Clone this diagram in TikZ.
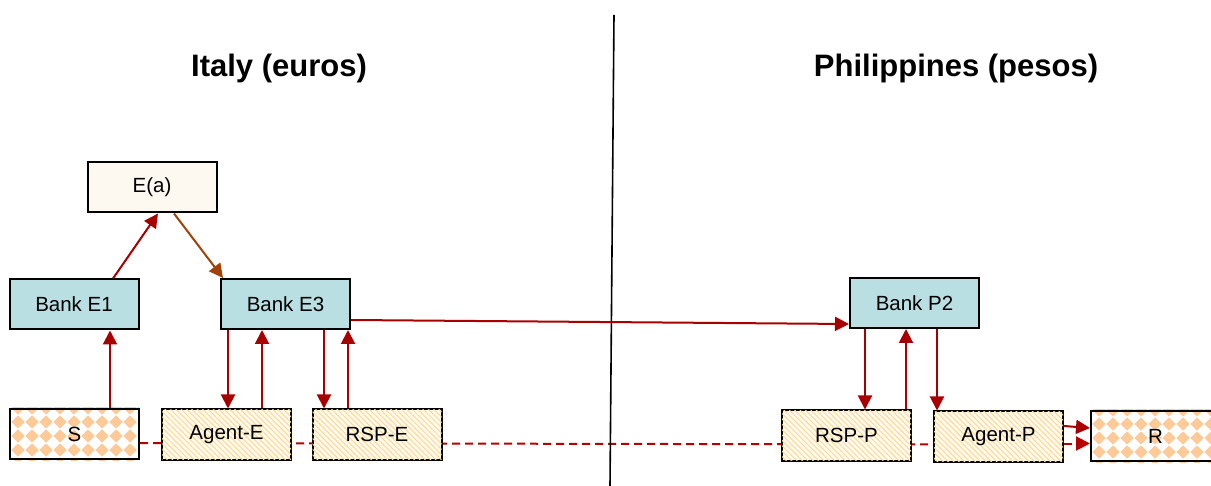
\documentclass[tikz,border=0pt]{standalone}
\usepackage{fontspec}
\setmainfont{Liberation Sans}
\usetikzlibrary{arrows.meta,patterns.meta,backgrounds}
\definecolor{arrred}{HTML}{A80000}
\definecolor{dashred}{HTML}{B80000}
\definecolor{arrbrown}{HTML}{A0420A}
\definecolor{bankfill}{HTML}{B9DFE3}
\definecolor{creamfill}{HTML}{FDF9F1}
\definecolor{hatchcol}{HTML}{FFD98F}
\definecolor{hatchbg}{HTML}{FFFBF2}
\definecolor{peach}{HTML}{FFCA98}
\tikzset{
  box/.style={draw=black, line width=2pt, minimum width=129pt, minimum height=50pt, inner sep=0pt,
    font=\fontsize{20.5}{24}\selectfont},
  bankbox/.style={box, fill=bankfill},
  ebox/.style={box, fill=creamfill},
  hatchbox/.style={box, fill=hatchbg, postaction={pattern={Lines[angle=-45,distance=3.8pt,line width=1pt]}, pattern color=hatchcol}},
  checkbox/.style={box},
  arr/.style={draw=arrred, line width=2pt, -{Triangle[width=14pt,length=14pt]}},
  brarr/.style={draw=arrbrown, line width=2pt, -{Triangle[width=14pt,length=14pt]}},
  dashline/.style={draw=dashred, line width=2pt, dash pattern=on 8pt off 5pt},
  title/.style={font=\bfseries\fontsize{31}{36}\selectfont, anchor=base},
  diamondfill/.style={fill=peach},
}
\newcommand{\checkerfill}[4]{% x0 y0 x1 y1 (pixel coords, y down)
  \begin{scope}
    \clip (#1,#2) rectangle (#3,#4);
    \fill[white] (#1,#2) rectangle (#3,#4);
    \foreach \j in {0,...,4}{
      \foreach \i in {0,...,10}{
        \fill[diamondfill, shift={({#1-6+14*\i},{#2+14*\j})}] (-6.6,0) -- (0,-6.6) -- (6.6,0) -- (0,6.6) -- cycle;
      }
    }
  \end{scope}
}
\begin{document}
\begin{tikzpicture}[x=1pt,y=-1pt]
\useasboundingbox (0,0) rectangle (1211,486);

% titles
\node[title] (tI) at (279,77) {Italy (euros)};
\node[title] (tP) at (956,77) {Philippines (pesos)};

% divider
\coordinate (dtop) at (614,15);
\coordinate (dbot) at (610,486);
\draw[line width=1.6pt] (dtop) -- (dbot);

% checker backgrounds
\checkerfill{10}{408}{139}{460}
\checkerfill{1091}{410}{1220}{462}

% nodes
\node[ebox] (Ea) at (152,187.5) {E(a)};
\node[bankbox] (E1) at (74,304.5) {Bank E1};
\node[bankbox] (E3) at (285.5,304) {Bank E3};
\node[bankbox] (P2) at (914.5,303) {Bank P2};
\node[checkbox] (S) at (74.5,434) {S};
\node[hatchbox] (AE) at (226.5,434.5) {Agent-E};
\node[hatchbox] (RE) at (377,434.5) {RSP-E};
\node[hatchbox] (RP) at (846.5,435.5) {RSP-P};
\node[hatchbox] (AP) at (998.5,436.5) {Agent-P};
\node[checkbox] (R) at (1155.5,436) {R};

% dashed line behind boxes
\begin{scope}[on background layer]
  \draw[dashline] ([yshift=-9pt]S.east) -- ([yshift=-8pt]AP.west);
\end{scope}
\draw[dashline, -{Triangle[width=14pt,length=14pt]}] ([yshift=-7pt]AP.east) -- ([yshift=-7.5pt]R.west);

% arrows
\draw[arr] (S.north -| 110,0) -- (E1.south -| 110,0);
\draw[arr] ([xshift=39pt]E1.north) -- ([xshift=6pt]Ea.south);
\draw[brarr] ([xshift=22pt]Ea.south) -- ([xshift=-62.5pt]E3.north);
\draw[arr] (E3.south -| 228,0) -- (AE.north -| 228,0);
\draw[arr] (AE.north -| 262,0) -- (E3.south -| 262,0);
\draw[arr] (E3.south -| 324,0) -- (RE.north -| 324,0);
\draw[arr] (RE.north -| 348,0) -- (E3.south -| 348,0);
\draw[arr] ([yshift=-16pt]E3.east) -- ([yshift=-21pt]P2.west);
\draw[arr] (P2.south -| 865,0) -- (RP.north -| 865,0);
\draw[arr] (RP.north -| 906,0) -- (P2.south -| 906,0);
\draw[arr] (P2.south -| 937,0) -- (AP.north -| 937,0);
\draw[arr] ([yshift=10.5pt]AP.east) -- ([yshift=8pt]R.west);
\end{tikzpicture}
\end{document}
